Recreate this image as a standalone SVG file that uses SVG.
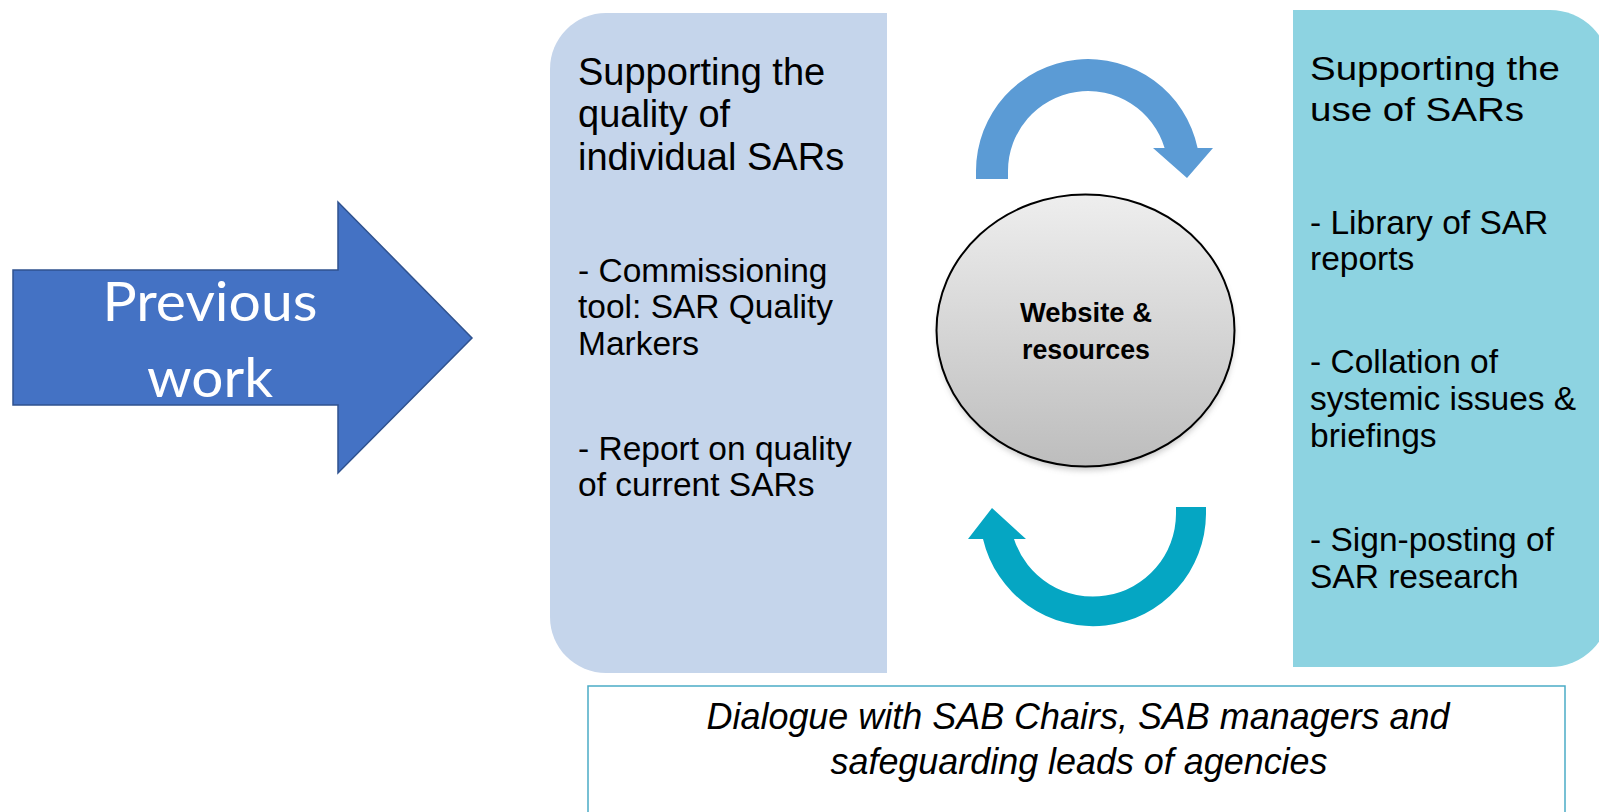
<svg xmlns="http://www.w3.org/2000/svg" width="1599" height="812" viewBox="0 0 1599 812">
  <defs>
    <linearGradient id="hubFill" x1="0" y1="0" x2="0" y2="1">
      <stop offset="0" stop-color="#EEEEEE"/>
      <stop offset="1" stop-color="#BDBDBD"/>
    </linearGradient>
    <filter id="soft" x="-20%" y="-20%" width="140%" height="140%">
      <feGaussianBlur stdDeviation="3"/>
    </filter>
    <style>
      .body { font-family: "Liberation Sans", Arial, sans-serif; fill: #000; }
      .title { font-size: 38px; }
      .item { font-size: 33.5px; }
      .hub { font-family: "Liberation Sans", Arial, sans-serif; font-weight: bold; font-size: 28px; fill: #000; }
      .note { font-family: "Liberation Sans", Arial, sans-serif; font-style: italic; font-size: 37px; fill: #000; }
      .big { font-family: Lato, "Open Sans", sans-serif; font-size: 54px; fill: #FFFFFF; }
    </style>
  </defs>

  <rect width="1599" height="812" fill="#FFFFFF"/>

  <!-- Block arrow on the left -->
  <g id="previous-work">
    <path d="M13,270 H338 V202 L472,338 L338,473 V405 H13 Z" fill="#4472C4" stroke="#2F528F" stroke-width="1.5"/>
    <text class="big" x="210" y="321" text-anchor="middle" textLength="215" lengthAdjust="spacingAndGlyphs">Previous</text>
    <text class="big" x="210" y="397" text-anchor="middle" textLength="126" lengthAdjust="spacingAndGlyphs">work</text>
  </g>

  <!-- Left panel: quality of individual SARs -->
  <g id="quality-panel">
    <path d="M606,13 H887 V673 H606 A56,56 0 0 1 550,617 V69 A56,56 0 0 1 606,13 Z" fill="#C5D5EB"/>
    <text class="body title" x="578" y="85">Supporting the</text>
    <text class="body title" x="578" y="127">quality of</text>
    <text class="body title" x="578" y="170">individual SARs</text>
    <text class="body item" x="578" y="282">- Commissioning</text>
    <text class="body item" x="578" y="318">tool: SAR Quality</text>
    <text class="body item" x="578" y="355">Markers</text>
    <text class="body item" x="578" y="460">- Report on quality</text>
    <text class="body item" x="578" y="496">of current SARs</text>
  </g>

  <!-- Right panel: use of SARs -->
  <g id="use-panel">
    <path d="M1293,10 H1550 A60,60 0 0 1 1610,70 V607 A60,60 0 0 1 1550,667 H1293 Z" fill="#8DD3E1"/>
    <text class="body title" style="font-size:33px" x="1310" y="80" textLength="250" lengthAdjust="spacingAndGlyphs">Supporting the</text>
    <text class="body title" style="font-size:33px" x="1310" y="121" textLength="214" lengthAdjust="spacingAndGlyphs">use of SARs</text>
    <text class="body item" x="1310" y="234">- Library of SAR</text>
    <text class="body item" x="1310" y="270">reports</text>
    <text class="body item" x="1310" y="373">- Collation of</text>
    <text class="body item" x="1310" y="410">systemic issues &amp;</text>
    <text class="body item" x="1310" y="447">briefings</text>
    <text class="body item" x="1310" y="551">- Sign-posting of</text>
    <text class="body item" x="1310" y="588">SAR research</text>
  </g>

  <!-- Central hub -->
  <g id="hub">
    <ellipse cx="1086" cy="335" rx="148" ry="135" fill="#808080" opacity="0.45" filter="url(#soft)"/>
    <ellipse cx="1085.5" cy="330.5" rx="149" ry="136" fill="url(#hubFill)" stroke="#000" stroke-width="2"/>
    <text class="hub" x="1086" y="322" text-anchor="middle" textLength="132" lengthAdjust="spacingAndGlyphs">Website &amp;</text>
    <text class="hub" x="1086" y="359" text-anchor="middle" textLength="128" lengthAdjust="spacingAndGlyphs">resources</text>
  </g>

  <!-- Cycle arrows around the hub -->
  <g id="connectors">
    <path d="M976,179 V171 A112,112 0 0 1 1197.6,148 H1213 L1187,178 L1153,148 H1164.6 A80,80 0 0 0 1008,171 V179 Z" fill="#5B9BD5"/>
    <path d="M1206,507 V514 A113,113 0 0 1 983,539 H968 L992,508 L1026,539 H1014 A83,83 0 0 0 1176,514 V507 Z" fill="#05A6C3"/>
  </g>

  <!-- Dialogue box along the bottom -->
  <g id="dialogue">
    <path d="M588,812 V686 H1565 V812" fill="#FFFFFF" stroke="#4BACC6" stroke-width="1.5"/>
    <text class="note" x="1078" y="729" text-anchor="middle" textLength="743" lengthAdjust="spacingAndGlyphs">Dialogue with SAB Chairs, SAB managers and</text>
    <text class="note" x="1079" y="774" text-anchor="middle" textLength="497" lengthAdjust="spacingAndGlyphs">safeguarding leads of agencies</text>
  </g>
</svg>
